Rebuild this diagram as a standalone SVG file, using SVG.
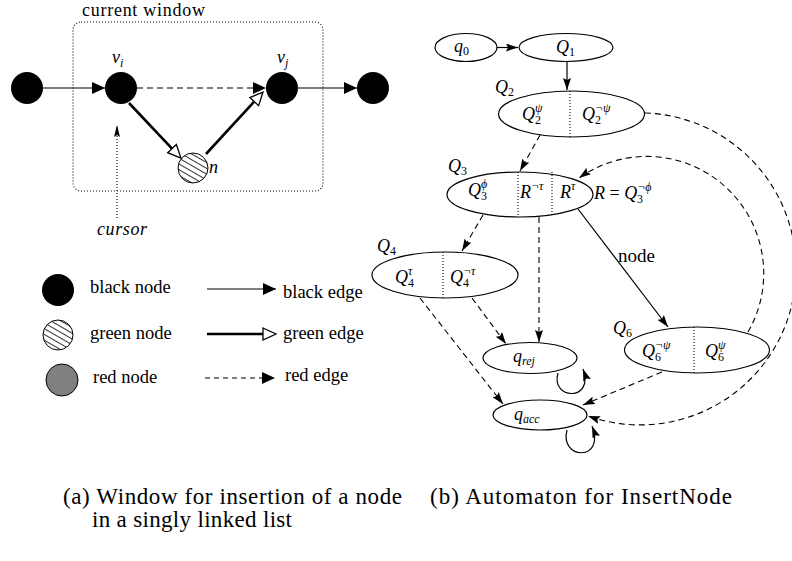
<svg xmlns="http://www.w3.org/2000/svg" width="792" height="561" viewBox="0 0 792 561">
<style>
text{font-family:'Liberation Serif','Times New Roman','DejaVu Serif',serif;fill:#000}
.m{font-style:italic;font-size:18px}
.sup,.sub{font-size:12px}
.up{font-style:normal}
.ln{fill:none;stroke:#000;stroke-width:1.2}
.thick{fill:none;stroke:#000;stroke-width:2.6}
.dash{fill:none;stroke:#000;stroke-width:1.1;stroke-dasharray:6 4}
.dot{fill:none;stroke:#000;stroke-width:1.1;stroke-dasharray:1 2}
.st{fill:#fff;stroke:#000;stroke-width:1.2}
.bn{fill:#000}
</style>
<defs>
<pattern id="hatch" patternUnits="userSpaceOnUse" width="5" height="5" patternTransform="rotate(30)">
<rect width="5" height="5" fill="#fff"/>
<line x1="0" y1="2.5" x2="5" y2="2.5" stroke="#000" stroke-width="0.8"/>
</pattern>
<marker id="ah" viewBox="0 0 13 12" refX="13" refY="6" markerWidth="13" markerHeight="12" markerUnits="userSpaceOnUse" orient="auto">
<path d="M0,0 L13,6 L0,12 z" fill="#000"/>
</marker>
<marker id="ho" viewBox="-1 -1 15 14" refX="0" refY="6" markerWidth="15" markerHeight="14" markerUnits="userSpaceOnUse" orient="auto">
<path d="M0,0 L13,6 L0,12 z" fill="#fff" stroke="#000" stroke-width="1.3"/>
</marker>
<marker id="as" viewBox="0 0 12 8" refX="12" refY="4" markerWidth="12" markerHeight="8" markerUnits="userSpaceOnUse" orient="auto">
<path d="M0,0 L12,4 L0,8 L2,4 z" fill="#000"/>
</marker>
<marker id="ac" viewBox="0 0 12 6" refX="12" refY="3" markerWidth="12" markerHeight="6" markerUnits="userSpaceOnUse" orient="auto">
<path d="M0,0 L12,3 L0,6 L2,3 z" fill="#000"/>
</marker>
</defs>

<!-- (a) window -->
<g id="window">
<rect x="73" y="22" width="250" height="169" rx="8" class="dot"/>
<text x="82" y="16" font-size="18" textLength="123">current window</text>
</g>
<g id="node-a"><circle cx="27" cy="88" r="16" class="bn"/></g>
<g id="node-vi"><circle cx="121" cy="88" r="16" class="bn"/><text class="m" x="112" y="63">v<tspan class="sub" dy="4">i</tspan></text></g>
<g id="node-vj"><circle cx="282" cy="88" r="16" class="bn"/><text class="m" x="277" y="63">v<tspan class="sub" dy="4">j</tspan></text></g>
<g id="node-d"><circle cx="373" cy="88" r="16" class="bn"/></g>
<g id="node-n"><circle cx="193" cy="168" r="15" fill="url(#hatch)" stroke="#000" stroke-width="1"/><text class="m" x="209" y="173">n</text></g>
<g id="cursor">
<line x1="117" y1="218" x2="117" y2="125" class="dot" marker-end="url(#ac)"/>
<text class="m" x="97" y="235" textLength="50">cursor</text>
</g>
<g id="edges-a">
<line x1="43" y1="88" x2="105" y2="88" class="ln" marker-end="url(#ah)"/>
<line x1="137" y1="88" x2="266" y2="88" class="dash" marker-end="url(#ah)"/>
<line x1="129" y1="103" x2="172" y2="148.6" class="thick" marker-end="url(#ho)"/>
<line x1="206" y1="154" x2="254.2" y2="101.6" class="thick" marker-end="url(#ho)"/>
<line x1="298" y1="88" x2="357" y2="88" class="ln" marker-end="url(#ah)"/>
</g>

<!-- legend -->
<g id="legend">
<circle cx="58" cy="290" r="16" class="bn"/>
<text x="90" y="293" font-size="18.5">black node</text>
<circle cx="58" cy="335" r="15" fill="url(#hatch)" stroke="#000" stroke-width="1"/>
<text x="90" y="339" font-size="18.5">green node</text>
<circle cx="62" cy="380" r="16" fill="#808080" stroke="#000" stroke-width="1"/>
<text x="93" y="383" font-size="18.5">red node</text>
<line x1="207" y1="289" x2="276" y2="289" class="ln" marker-end="url(#ah)"/>
<text x="283" y="298" font-size="18.5">black edge</text>
<line x1="207" y1="334" x2="263" y2="334" class="thick" marker-end="url(#ho)"/>
<text x="283" y="339" font-size="18.5">green edge</text>
<line x1="205" y1="378" x2="275" y2="378" stroke="#000" stroke-width="1.1" stroke-dasharray="5 4" marker-end="url(#ah)"/>
<text x="285" y="381" font-size="18.5">red edge</text>
</g>

<!-- (b) automaton -->
<g id="q0"><ellipse cx="466" cy="47.5" rx="31" ry="14" class="st"/><text class="m" x="454" y="52">q<tspan class="sub up" dy="3">0</tspan></text></g>
<g id="Q1"><ellipse cx="566" cy="47.5" rx="47" ry="14" class="st"/><text class="m" x="556" y="53">Q<tspan class="sub up" dy="3">1</tspan></text></g>
<g id="Q2">
<ellipse cx="571.5" cy="114" rx="73" ry="23" class="st"/>
<line x1="570" y1="91" x2="570" y2="137" class="dot"/>
<text class="m" x="495" y="93">Q<tspan class="sub up" dy="3">2</tspan></text>
<text class="m" x="522" y="120">Q<tspan class="sup" dy="-8">ψ</tspan></text>
<text class="sub up" x="535" y="124">2</text>
<text class="m" x="582" y="120">Q<tspan class="sup" dy="-8">¬ψ</tspan></text>
<text class="sub up" x="595" y="124">2</text>
</g>
<g id="Q3">
<ellipse cx="520" cy="194.5" rx="73" ry="22.5" class="st"/>
<line x1="518" y1="172" x2="518" y2="217" class="dot"/>
<line x1="552" y1="172" x2="552" y2="217" class="dot"/>
<text class="m" x="448" y="172">Q<tspan class="sub up" dy="3">3</tspan></text>
<text class="m" x="468" y="196">Q<tspan class="sup" dy="-8">ϕ</tspan></text>
<text class="sub up" x="481" y="200">3</text>
<text class="m" x="520" y="198">R<tspan class="sup" dy="-8">¬τ</tspan></text>
<text class="m" x="560" y="198">R<tspan class="sup" dy="-8">τ</tspan></text>
<text class="m" x="594" y="199">R<tspan class="up"> = </tspan>Q<tspan class="sup" dy="-8">¬ϕ</tspan></text>
<text class="sub up" x="637" y="203">3</text>
</g>
<g id="Q4">
<ellipse cx="445" cy="275" rx="73" ry="23" class="st"/>
<line x1="443" y1="252" x2="443" y2="298" class="dot"/>
<text class="m" x="377" y="252">Q<tspan class="sub up" dy="3">4</tspan></text>
<text class="m" x="395" y="283">Q<tspan class="sup" dy="-8">τ</tspan></text>
<text class="sub up" x="408" y="287">4</text>
<text class="m" x="450" y="283">Q<tspan class="sup" dy="-8">¬τ</tspan></text>
<text class="sub up" x="463" y="287">4</text>
</g>
<g id="Q6">
<ellipse cx="697" cy="350" rx="72.5" ry="23" class="st"/>
<line x1="694" y1="327" x2="694" y2="373" class="dot"/>
<text class="m" x="613" y="334">Q<tspan class="sub up" dy="3">6</tspan></text>
<text class="m" x="642" y="357">Q<tspan class="sup" dy="-8">¬ψ</tspan></text>
<text class="sub up" x="655" y="361">6</text>
<text class="m" x="705" y="357">Q<tspan class="sup" dy="-8">ψ</tspan></text>
<text class="sub up" x="718" y="361">6</text>
</g>
<g id="qrej"><ellipse cx="530" cy="358" rx="47" ry="15.5" class="st"/><text class="m" x="513" y="362">q<tspan class="sub" dy="3">rej</tspan></text></g>
<g id="qacc"><ellipse cx="540" cy="415" rx="47" ry="15" class="st"/><text class="m" x="514" y="420">q<tspan class="sub" dy="3">acc</tspan></text></g>

<g id="edges-b">
<line x1="497" y1="47.5" x2="518" y2="47.5" class="ln" marker-end="url(#as)"/>
<line x1="567" y1="61.5" x2="567" y2="90" class="ln" marker-end="url(#as)"/>
<line x1="540" y1="135" x2="520" y2="171" class="dash" marker-end="url(#as)"/>
<line x1="483" y1="215" x2="462" y2="251" class="dash" marker-end="url(#as)"/>
<line x1="539" y1="217" x2="539" y2="342" class="dash" marker-end="url(#as)"/>
<line x1="578" y1="209" x2="668" y2="327" class="ln" marker-end="url(#as)"/>
<text x="618" y="262" font-size="19">node</text>
<path d="M748,332 A117,117 0 0 0 579,178" class="dash" marker-end="url(#as)"/>
<path d="M645,113 A156,156 0 1 1 588,416" class="dash" marker-end="url(#as)"/>
<line x1="472" y1="298" x2="506" y2="344" class="dash" marker-end="url(#as)"/>
<line x1="420" y1="298" x2="503" y2="404" class="dash" marker-end="url(#as)"/>
<line x1="662" y1="372" x2="583" y2="405" class="dash" marker-end="url(#as)"/>
<path d="M558,373 C550,400 595,402 583,369" class="ln" marker-end="url(#as)"/>
<path d="M567,430 C559,460 606,462 592,426" class="ln" marker-end="url(#as)"/>
</g>

<!-- captions -->
<g id="captions">
<text x="63" y="504" font-size="23" textLength="339">(a) Window for insertion of a node</text>
<text x="92" y="527" font-size="23" textLength="200">in a singly linked list</text>
<text x="430" y="504" font-size="23" textLength="302">(b) Automaton for InsertNode</text>
</g>
</svg>
